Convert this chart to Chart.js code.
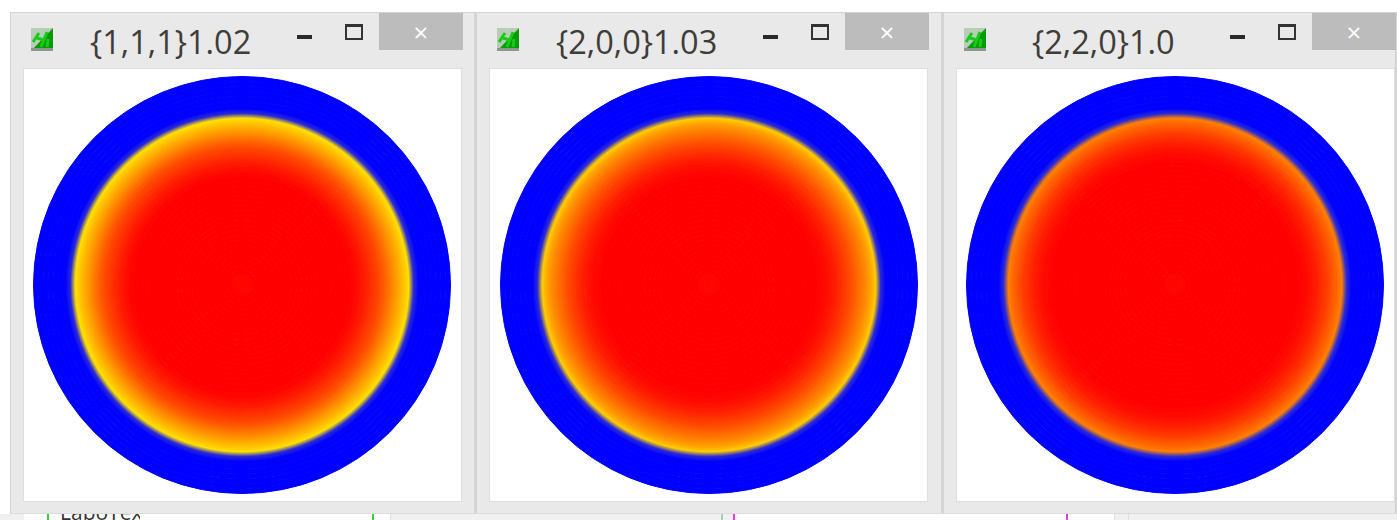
<!DOCTYPE html>
<html>
<head>
<meta charset="utf-8">
<script src="https://cdn.jsdelivr.net/npm/chart.js@4/dist/chart.umd.min.js"></script>
<style>
html, body { margin: 0; padding: 0; background: #fff; overflow: hidden; }
#page { position: relative; width: 1397px; height: 520px; font-family: "Open Sans", sans-serif; filter: blur(0.35px); }
.strip { position: absolute; top: 514px; height: 6px; overflow: hidden; }
.strip span { position: absolute; left: 0; top: -12px; font-size: 21px; line-height: 21px; color: #333; white-space: nowrap; }
.win { position: absolute; top: 12px; height: 502px; background: #e9e9e9; border-top: 1px solid #d4d4d4; border-left: 1px solid #d4d4d4; border-right: 2px solid #d4d4d4; border-bottom: 1px solid #dcdcdc; box-sizing: border-box; }
.panel { position: absolute; top: 55px; width: 439px; height: 434px; background: #fff; border: 1px solid #dedede; box-sizing: border-box; }
.panel canvas { position: absolute; top: 7px; }
.icon { position: absolute; left: 20px; top: 15px; width: 22px; height: 23px; }
.title { position: absolute; top: 8px; font-size: 32.5px; line-height: 42px; color: #403c38; white-space: nowrap; }
.min { position: absolute; left: 286px; top: 22px; width: 15px; height: 4px; background: #2a2a2a; }
.max { position: absolute; left: 334px; top: 11px; width: 14px; height: 11px; border: 2px solid #333; border-top-width: 3px; }
.close { position: absolute; left: 368px; top: 0; width: 84px; height: 37px; background: #bcbcbc; color: #fff; font-size: 26px; line-height: 38px; text-align: center; }
</style>
</head>
<body>
<div id="page"></div>
<script>
// titles of the three pole figure windows
const titles = ["{1,1,1}1.02", "{2,0,0}1.03", "{2,2,0}1.0"];

// intensity per ring, centre to rim (0 = blue, 0.5 = yellow, 1 = red)
const rings111 = [0.99, 0.99, 1, 1, 1, 1, 1, 1, 1, 1, 1, 1, 1, 1, 1, 1, 1, 1, 1, 1, 1, 1, 0.99, 0.97, 0.95, 0.92, 0.89, 0.86, 0.82, 0.77, 0.72, 0.67, 0.62, 0.56, 0.08, 0, 0, 0, 0, 0, 0, 0];
const rings200 = [0.99, 0.99, 1, 1, 1, 1, 1, 1, 1, 1, 1, 1, 1, 1, 1, 1, 1, 1, 1, 1, 1, 1, 0.99, 0.98, 0.96, 0.94, 0.91, 0.88, 0.85, 0.81, 0.77, 0.73, 0.68, 0.6, 0.08, 0, 0, 0, 0, 0, 0, 0];
const rings220 = [0.99, 0.99, 1, 1, 1, 1, 1, 1, 1, 1, 1, 1, 1, 1, 1, 1, 1, 1, 1, 1, 1, 1, 1, 1, 1, 0.99, 0.98, 0.96, 0.94, 0.91, 0.88, 0.84, 0.8, 0.75, 0.08, 0, 0, 0, 0, 0, 0, 0];

const allRings = [rings111, rings200, rings220];
const winLeft = [10, 476, 943];
const winWidth = [466, 467, 454];
const canvasLeft = [9, 10, 9];

function intensityColor(v) {
    if (v <= 0.5) {
        const t = v / 0.5;
        return `rgb(${Math.round(255 * t)},${Math.round(255 * t)},${Math.round(255 * (1 - t))})`;
    }
    return `rgb(255,${Math.round(255 * (1 - v) * 2)},0)`;
}

// one shared radial gradient through the ring centres, so the rings blend
function ringGradient(chart, rings) {
    if (chart.$grad) return chart.$grad;
    const cx = chart.width / 2, cy = chart.height / 2;
    const R = Math.min(chart.width, chart.height) / 2;
    const g = chart.ctx.createRadialGradient(cx, cy, 0, cx, cy, R);
    rings.forEach((v, i) => g.addColorStop((i + 0.5) / rings.length, intensityColor(v)));
    chart.$grad = g;
    return g;
}

const page = document.getElementById("page");

page.insertAdjacentHTML("beforeend", `
  <div class="strip" style="left:0;width:1397px;background:#f0f0f0"></div>
  <div class="strip" style="left:24px;width:366px;background:#fff;border-right:1px solid #ddd"></div>
  <div class="strip" style="left:47px;width:2px;background:#35d335"></div>
  <div class="strip" style="left:372px;width:2px;background:#35d335"></div>
  <div class="strip" style="left:60px;width:80px"><span>LaboTex</span></div>
  <div class="strip" style="left:721px;width:2px;background:#a8cfa8"></div>
  <div class="strip" style="left:737px;width:377px;background:#fff;border-right:1px solid #ddd"></div>
  <div class="strip" style="left:733px;width:2px;background:#e040e0"></div>
  <div class="strip" style="left:1066px;width:2px;background:#e040e0"></div>
  <div class="strip" style="left:1128px;width:1px;background:#ddd"></div>
`);

titles.forEach((title, w) => {
    const win = document.createElement("div");
    win.className = "win";
    win.style.left = winLeft[w] + "px";
    win.style.width = winWidth[w] + "px";
    win.innerHTML = `
      <svg class="icon" viewBox="0 0 22 23">
        <rect width="22" height="23" fill="#b8ccb8"/>
        <path d="M22 0 L22 23 L0 23 Z" fill="#089a08"/>
        <rect y="20" width="22" height="3" fill="#8a9a8a"/>
        <path d="M2 14 L8 5 M6 10 L13 12 M10 19 L16 4 M16 19 L17 11" stroke="#16cc16" stroke-width="3" fill="none"/>
      </svg>
      <div class="title" style="left:${[79, 79, 88][w]}px">${title}</div>
      <div class="min"></div>
      <div class="max"></div>
      <div class="close">×</div>
      <div class="panel" style="left:12px"><canvas width="418" height="418"></canvas></div>`;
    page.appendChild(win);

    const rings = allRings[w];
    const canvas = win.querySelector("canvas");
    canvas.style.left = canvasLeft[w] + "px";
    canvas.style.width = "418px";
    canvas.style.height = "418px";

    // dataset 0 is the outer ring in a doughnut, so go rim to centre
    const datasets = rings.slice().reverse().map(v => ({
        label: "intensity " + v,
        data: [1],
        backgroundColor: ctx => ringGradient(ctx.chart, rings),
        borderColor: ctx => ringGradient(ctx.chart, rings),
        borderWidth: 1
    }));

    new Chart(canvas, {
        type: "doughnut",
        data: { labels: [title], datasets: datasets },
        options: {
            responsive: false,
            animation: false,
            cutout: 0,
            layout: { padding: 0 },
            plugins: { legend: { display: false }, tooltip: { enabled: false } }
        }
    });
});
</script>
</body>
</html>
